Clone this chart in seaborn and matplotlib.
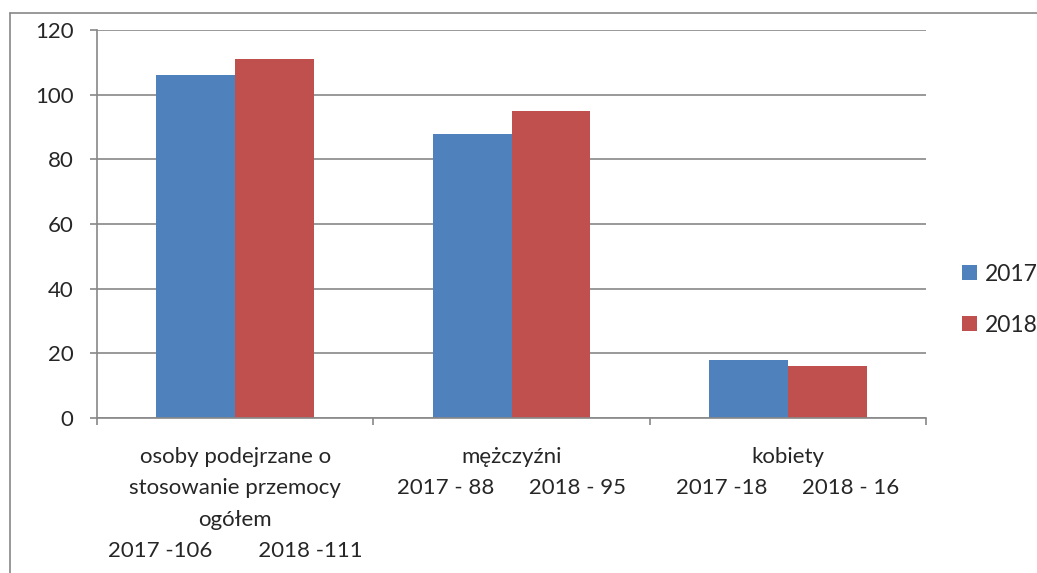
import numpy as np
import pandas as pd
import matplotlib
matplotlib.use("Agg")
import matplotlib.pyplot as plt
from matplotlib.lines import Line2D
import seaborn as sns

categories = [
    "osoby podejrzane o\nstosowanie przemocy\nogółem\n2017 -106        2018 -111",
    "mężczyźni\n2017 - 88      2018 - 95",
    "kobiety\n2017 -18      2018 - 16",
]
years = ["2017", "2018"]
values_2017 = [106, 88, 18]
values_2018 = [111, 95, 16]
y_ticks = [0, 20, 40, 60, 80, 100, 120]

df = pd.DataFrame({
    "kategoria": categories * 2,
    "rok": [years[0]] * 3 + [years[1]] * 3,
    "liczba": values_2017 + values_2018,
})

sns.set_style("white")
plt.rcParams["font.family"] = ["Lato", "DejaVu Sans"]

grid_col = "#888888"
fs = 16
fig = plt.figure(figsize=(10.37, 5.73), dpi=100)
ax = fig.add_axes([0.0935, 0.2705, 0.7995, 0.677])

sns.barplot(data=df, x="kategoria", y="liczba", hue="rok",
            palette=["#4F81BD", "#C0504D"], width=0.57,
            saturation=1, linewidth=0, ax=ax, legend=True)

ax.set_ylim(0, 120)
ax.set_xlim(-0.5, 2.5)
ax.set_yticks(y_ticks)
ax.yaxis.grid(True, color=grid_col, linewidth=1.2)
ax.set_axisbelow(True)
ax.set_xlabel("")
ax.set_ylabel("")

for s in ["top", "right"]:
    ax.spines[s].set_visible(False)
for s in ["left", "bottom"]:
    ax.spines[s].set_color(grid_col)
    ax.spines[s].set_linewidth(1.2)

ax.tick_params(axis="y", length=5, color=grid_col, width=1.2,
               labelsize=fs, pad=12, left=True)
ax.tick_params(axis="x", which="major", length=0, labelsize=fs, pad=21)
ax.set_xticks([-0.5, 0.5, 1.5, 2.5], minor=True)
ax.tick_params(axis="x", which="minor", length=5, color=grid_col,
               width=1.2, bottom=True)
for lab in ax.get_xticklabels():
    lab.set_linespacing(1.7)
    lab.set_verticalalignment("top")

leg = ax.legend(loc="center left", bbox_to_anchor=(1.018, 0.305),
                frameon=False, fontsize=16.5, handlelength=0.66,
                handleheight=0.66, handletextpad=0.35, labelspacing=1.3)

# ramka obszaru wykresu (widoczna tylko góra i lewa strona)
fig.add_artist(Line2D([0.0096, 1.0], [0.977, 0.977], color=grid_col,
                      linewidth=1.2, transform=fig.transFigure))
fig.add_artist(Line2D([0.0096, 0.0096], [0.0, 0.977], color=grid_col,
                      linewidth=1.2, transform=fig.transFigure))

fig.savefig("out.png", dpi=100)
